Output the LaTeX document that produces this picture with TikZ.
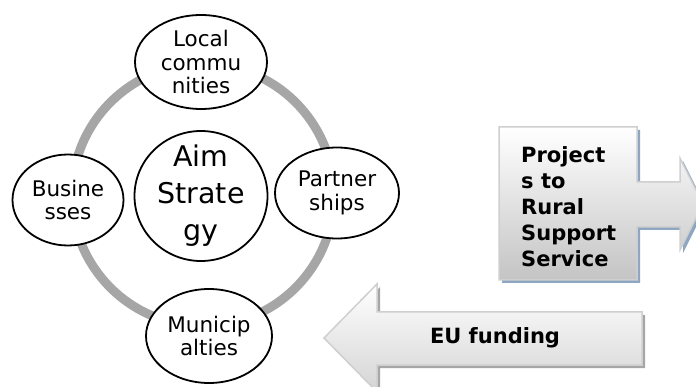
\documentclass[tikz,border=0pt]{standalone}
\usepackage{fontspec}
\setmainfont{DejaVu Sans}
\usetikzlibrary{shapes.geometric}
\definecolor{ringgray}{HTML}{A6A6A6}
\definecolor{blueshadow}{HTML}{8FA6C2}
\definecolor{edgegray}{HTML}{CFCFCF}
\definecolor{boxbottom}{HTML}{C4C4C4}
\definecolor{arrbottom}{HTML}{D4D4D4}
\tikzset{
  x=1pt, y=-1pt,
  ring/.style={draw=ringgray, line width=9pt},
  bubble/.style={ellipse, draw=black, line width=1.8pt, fill=white, inner sep=-3pt, align=center,
                 font=\fontsize{21.5}{23.5}\selectfont},
  arrowlabel/.style={font=\bfseries\fontsize{21}{26}\selectfont, align=left, inner sep=0pt},
  arrowbody/.style={draw=edgegray, line width=1.5pt, line join=miter},
}
\begin{document}
\begin{tikzpicture}
\useasboundingbox (0,0) rectangle (696,387);
% ring
\draw[ring] (203,195) circle (131);
% nodes
\node[bubble, minimum width=132pt, minimum height=94pt] (local) at (201,62) {Local\\commu\\nities};
\node[bubble, minimum width=111pt, minimum height=91pt] (bus) at (68,200) {Busine\\sses};
\node[bubble, minimum width=124pt, minimum height=91pt] (part) at (337,193) {Partner\\ships};
\node[bubble, minimum width=126pt, minimum height=94pt] (muni) at (209,336) {Municip\\alties};
\node[bubble, inner sep=-7pt, minimum width=133pt, minimum height=130pt, font=\fontsize{28.5}{37}\selectfont] (aim) at (201,196) {Aim\\Strate\\gy};
% right arrow (Projects)
\fill[blueshadow] (502,130) -- (640,130) -- (640,185) -- (683,185) -- (683,161) -- (706,207) -- (683,253) -- (683,230) -- (640,230) -- (640,283) -- (502,283) -- cycle;
\path[arrowbody, top color=white, bottom color=boxbottom] (499,127) -- (637,127) -- (637,182) -- (680,182) -- (680,158) -- (703,204) -- (680,250) -- (680,227) -- (637,227) -- (637,280) -- (499,280) -- cycle;
\node[arrowlabel, anchor=west] (proj) at (521,207) {Project\\s to\\Rural\\Support\\Service};
% left arrow (EU funding)
\fill[ringgray] (327,341) -- (380,287) -- (380,315) -- (645,315) -- (645,368) -- (380,368) -- (380,395) -- cycle;
\path[arrowbody, top color=white, bottom color=arrbottom] (324,338) -- (377,284) -- (377,312) -- (642,312) -- (642,365) -- (377,365) -- (377,392) -- cycle;
\node[arrowlabel] (eu) at (495,338) {EU funding};
\end{tikzpicture}
\end{document}
